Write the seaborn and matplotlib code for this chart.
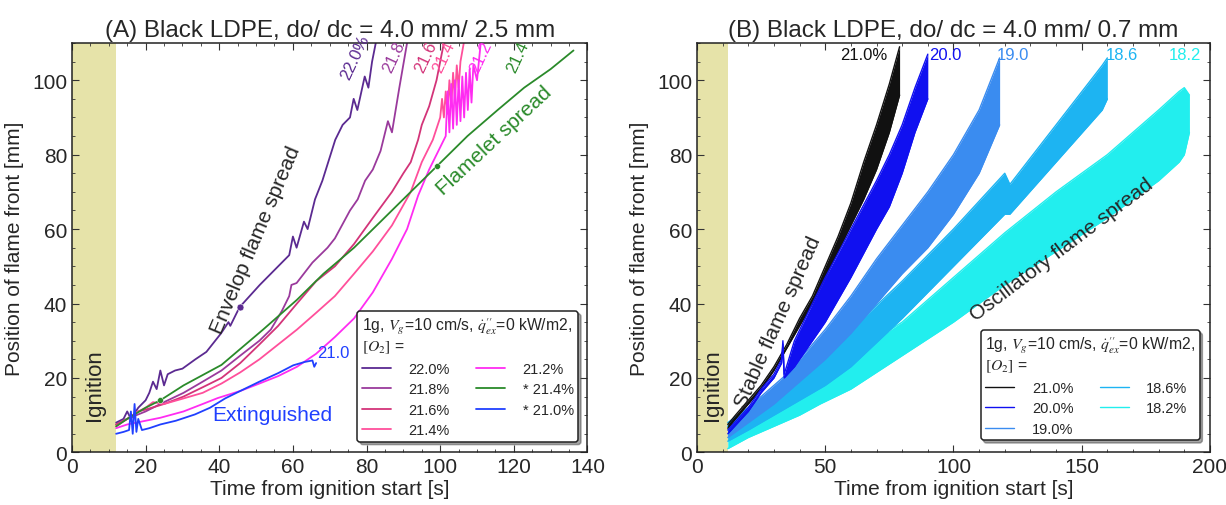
import matplotlib
matplotlib.use("Agg")
import matplotlib.pyplot as plt
from matplotlib.ticker import MultipleLocator
import seaborn as sns

sns.set_style("ticks")
plt.rcParams['font.family'] = ['Liberation Sans', 'DejaVu Sans']
plt.rcParams['mathtext.fontset'] = 'stix'

# ---------------- panel A: do/dc = 4.0/2.5 mm (time [s], position [mm]) ----------------
t_220 = [12, 14, 15, 16, 18, 20, 21, 22, 23, 24, 25, 26, 28, 30, 33.5, 36.5, 40.5, 42.5, 43, 45.5,
         51, 52, 56, 59, 60, 61, 63, 64, 66, 68, 71.5, 73.5, 75.5, 76.5, 77.5, 79.5, 80.5, 81.5, 82.5]
y_220 = [8, 9, 11, 9, 12, 14, 16, 19, 17, 22, 18, 21, 22, 22.5, 25, 27, 32, 35, 34, 39,
         45, 46, 50, 53, 58, 55, 62, 60, 68, 73, 84, 88, 90, 95, 92, 101, 98, 105, 110]

t_218 = [12, 15, 20, 25, 30.3, 35.5, 40.6, 45.7, 50.9, 54, 57, 59, 59.6, 61, 65.3, 69.4, 71.4,
         75.5, 77.6, 79.6, 81.7, 83.8, 85.8, 86.9, 87.9, 88.9, 91]
y_218 = [7.5, 9, 11, 13.5, 16, 19, 22, 26, 30, 33, 38, 42, 45, 45.5, 51, 55, 57.5,
         65, 68, 73, 76, 81, 89, 86, 92, 98, 110]

t_216 = [12, 15, 18, 20, 25, 30.3, 35.5, 40.6, 45.7, 50.9, 56, 61.1, 66.3, 71.4, 76.6, 81.7,
         86.9, 90, 92, 94, 95, 97, 99, 101]
y_216 = [7.5, 9, 11, 11.5, 13, 15, 17.5, 20, 24, 29, 34, 40, 46, 50, 56, 63,
         70, 75, 78, 84, 88, 93, 100, 110]

t_214 = [12, 15, 18, 20, 22, 25, 30.3, 35.5, 40.6, 45.7, 50.9, 56, 61.1, 66.3, 71.4, 76.6, 81.7,
         86.9, 92, 95, 98, 100, 100.5, 101, 101.5, 102, 102.5, 103, 103.5, 104, 104.5, 105,
         105.5, 106.4]
y_214 = [7, 9, 11, 12, 13.5, 13, 14.5, 16, 18.5, 21.5, 25, 29, 33, 37.5, 42, 48, 54,
         61, 70, 78, 84, 90, 95, 90, 97, 91, 100, 93, 102, 95, 104, 98, 105, 110]

t_212 = [12, 15, 20, 24, 30.3, 35.5, 39.6, 45.7, 50.9, 56, 61.1, 66.3, 71.4, 76.6, 81.7, 86.9,
         91, 94, 97, 100, 101.5, 102, 102.5, 103, 103.5, 104, 104.5, 105, 105.5, 106, 106.5,
         107, 107.5, 108, 108.5, 109, 110, 111]
y_212 = [6.5, 7.5, 8.5, 9.3, 11, 13, 14.6, 16.5, 18.5, 20.5, 23, 26.5, 31, 36, 43, 52,
         60, 69, 76, 82, 85, 97, 86, 99, 87, 100, 88, 100, 89, 101, 90, 102, 92, 103, 94,
         104, 100, 110]

t_214s = [12, 15, 20, 24, 30.3, 40.6, 51.9, 61.1, 68.3, 76.6, 83.8, 92, 99.2, 107.4, 115.6,
          122.8, 130, 136.2]
y_214s = [7, 9, 12, 14, 18, 23.5, 33, 41, 48, 55, 62, 70, 77, 85, 92, 98, 103, 108]

t_210s = [12, 14, 15.5, 16, 16.5, 17, 17.5, 18, 19, 21, 24, 28.2, 33.4, 37.5, 41.6, 45.7, 50.9,
          56, 60.1, 63.2, 65.3, 65.8, 66.3]
y_210s = [5, 5.5, 6, 11, 5, 13, 5.5, 9, 6, 6.5, 7.5, 8.5, 10.2, 12, 14.5, 16.5, 19,
          21.3, 23.4, 24.3, 24.7, 23, 24]

labels_a = ['22.0%', '21.8%', '21.6%', '21.4%', '21.2%', '* 21.4%', '* 21.0%']
colors_a = ['#5b2a91', '#9a3a9c', '#d33479', '#ff4f9b', '#ff2cf2', '#2a8a2a', '#2040ff']

# ---------------- panel B: do/dc = 4.0/0.7 mm, oscillating bands (lower / upper) ----------------
t_b210 = [12, 15, 20, 25, 30, 35, 40, 45, 50, 55, 60, 65, 70, 75, 79]
lo_b210 = [6.5, 9, 13, 17, 22, 28, 34, 40, 47, 54, 61, 68, 76, 86, 96]
hi_b210 = [7.5, 10, 14, 18, 23, 29, 36, 42, 50, 58, 67, 78, 88, 99, 109]

t_b200 = [12, 14, 20, 25, 30, 33, 33.5, 34, 38, 45, 50, 60, 70, 75, 80, 85, 90]
lo_b200 = [5, 6.5, 11, 16, 20, 24, 29, 20, 23, 30, 35, 47, 60, 66, 75, 86, 95]
hi_b200 = [6, 7.5, 12, 17, 21, 25, 30, 21, 30, 40, 47, 60, 73, 80, 88, 98, 107]

t_b190 = [12, 20, 30, 35, 40, 50, 60, 70, 80, 90, 100, 110, 118]
lo_b190 = [4, 8, 13, 16, 19, 25, 32, 40, 48, 55, 64, 75, 88]
hi_b190 = [7, 12, 18, 21, 25, 33, 42, 52, 61, 70, 80, 92, 106]

t_b186 = [12, 20, 30, 40, 50, 60, 80, 100, 120, 122, 140, 158, 160]
lo_b186 = [3, 6, 10, 14, 18, 23, 36, 50, 64, 64, 78, 92, 95]
hi_b186 = [8, 12, 17, 22, 27, 33, 46, 60, 75, 72, 88, 104, 106]

t_b182 = [12, 20, 30, 40, 48, 49.5, 60, 80, 100, 120, 140, 160, 180, 188, 190, 192]
lo_b182 = [1, 4, 7, 10, 13, 13.5, 17, 26, 35, 45, 54, 63, 73, 78, 80, 86]
hi_b182 = [7, 10, 14, 18, 22, 20, 26, 35, 47, 59, 70, 80, 92, 97, 98, 96]

labels_b = ['21.0%', '20.0%', '19.0%', '18.6%', '18.2%']
colors_b = ['#111111', '#1010f0', '#3a8cf0', '#1db4f2', '#22eeee']

ign_end = 12
ign_color = '#e6e3a9'
leg_title = "1g, $V_g$=10 cm/s, $\\dot{q}^{\\prime\\prime}_{ex}$=0 kW/m2,\n$[O_2]$ ="

fig = plt.figure(figsize=(12.26, 5.06), dpi=100)
axA = fig.add_axes([0.0587, 0.104, 0.4205, 0.809])
axB = fig.add_axes([0.5685, 0.104, 0.4184, 0.809])


def style_axis(ax, xmax, xmaj, xmin):
    ax.set_xlim(0, xmax)
    ax.set_ylim(0, 110)
    ax.xaxis.set_major_locator(MultipleLocator(xmaj))
    ax.xaxis.set_minor_locator(MultipleLocator(xmin))
    ax.yaxis.set_major_locator(MultipleLocator(20))
    ax.yaxis.set_minor_locator(MultipleLocator(5))
    ax.tick_params(which='both', direction='in', top=True, right=True, labelsize=15, color='#333333')
    ax.tick_params(which='major', length=5)
    ax.tick_params(which='minor', length=2.5)
    for s in ax.spines.values():
        s.set_linewidth(1.1)
        s.set_color('#222222')
    ax.set_xlabel("Time from ignition start [s]", fontsize=15, labelpad=2)
    ax.set_ylabel("Position of flame front [mm]", fontsize=15, labelpad=6)
    ax.axvspan(0, ign_end, color=ign_color, zorder=0, lw=0)
    ax.text(6, 18.4, "Ignition", rotation=90, ha='center', va='center', fontsize=16)


def make_legend(ax, handles=None, labels=None, anchor=(0.995, 0.008)):
    kw = dict(ncol=2, loc='lower right', bbox_to_anchor=anchor, title=leg_title,
              fontsize=10.5, title_fontsize=11.3, alignment='left', frameon=True,
              fancybox=True, shadow=True, edgecolor='#222222', handlelength=2.0,
              handletextpad=1.2, columnspacing=1.8, labelspacing=0.45, borderpad=0.3)
    if handles is None:
        leg = ax.legend(**kw)
    else:
        leg = ax.legend(handles, labels, **kw)
    leg.get_frame().set_linewidth(1.1)
    return leg


# ---------- panel A ----------
style_axis(axA, 140, 20, 5)
series_a = [(t_220, y_220), (t_218, y_218), (t_216, y_216), (t_214, y_214),
            (t_212, y_212), (t_214s, y_214s), (t_210s, y_210s)]
for (tt, yy), c, lab in zip(series_a, colors_a, labels_a):
    sns.lineplot(x=tt, y=yy, ax=axA, color=c, lw=1.3, label=lab, estimator=None, sort=False)
# markers seen on the curves
sns.scatterplot(x=[45.5], y=[39], ax=axA, color=colors_a[0], s=25, legend=False, zorder=5)
sns.scatterplot(x=[24, 99.2], y=[14, 77], ax=axA, color=colors_a[5], s=18, legend=False, zorder=5)

axA.set_title("(A) Black LDPE, do/ dc = 4.0 mm/ 2.5 mm", fontsize=17.5, pad=5)
axA.text(50, 57.3, "Envelop flame spread", rotation=67, ha='center', va='center', fontsize=15)
axA.text(114.8, 84, "Flamelet spread", rotation=43, ha='center', va='center', fontsize=15,
         color=colors_a[5])
axA.text(54.4, 10.3, "Extinguished", ha='center', va='center', fontsize=15, color=colors_a[6])
top_a = [(77, '22.0%', 0), (87.4, '21.8', 1), (96, '21.6', 2), (101, '21.4', 3),
         (111, '21.2', 4), (121, '21.4', 5)]
for tx, s, ci in top_a:
    axA.text(tx, 106.3, s, rotation=65, ha='center', va='center', fontsize=12, color=colors_a[ci])
axA.text(71.1, 26.9, "21.0", ha='center', va='center', fontsize=12, color=colors_a[6])

make_legend(axA, anchor=(0.996, 0.008))

# ---------- panel B ----------
style_axis(axB, 200, 50, 10)
bands = [(t_b182, lo_b182, hi_b182, 4), (t_b186, lo_b186, hi_b186, 3),
         (t_b190, lo_b190, hi_b190, 2), (t_b210, lo_b210, hi_b210, 0),
         (t_b200, lo_b200, hi_b200, 1)]
handles = {}
for tt, lo, hi, ci in bands:
    c = colors_b[ci]
    axB.fill_between(tt, lo, hi, color=c, lw=0, zorder=2)
    sns.lineplot(x=tt, y=lo, ax=axB, color=c, lw=1.0, estimator=None, sort=False)
    sns.lineplot(x=tt, y=hi, ax=axB, color=c, lw=1.0, estimator=None, sort=False)
    handles[ci] = axB.lines[-1]

axB.set_title("(B) Black LDPE, do/ dc = 4.0 mm/ 0.7 mm", fontsize=17.5, pad=5)
axB.text(31.6, 35.3, "Stable flame spread", rotation=66, ha='center', va='center', fontsize=15)
axB.text(142.3, 54.7, "Oscillatory flame spread", rotation=37, ha='center', va='center',
         fontsize=15)
top_b = [(64.9, '21.0%', 0), (96.7, '20.0', 1), (123.3, '19.0', 2), (165.6, '18.6', 3),
         (190.3, '18.2', 4)]
for tx, s, ci in top_b:
    axB.text(tx, 106.8, s, ha='center', va='center', fontsize=12, color=colors_b[ci])

make_legend(axB, [handles[i] for i in range(5)], labels_b, anchor=(0.994, 0.012))

plt.savefig('out.png', dpi=100)
